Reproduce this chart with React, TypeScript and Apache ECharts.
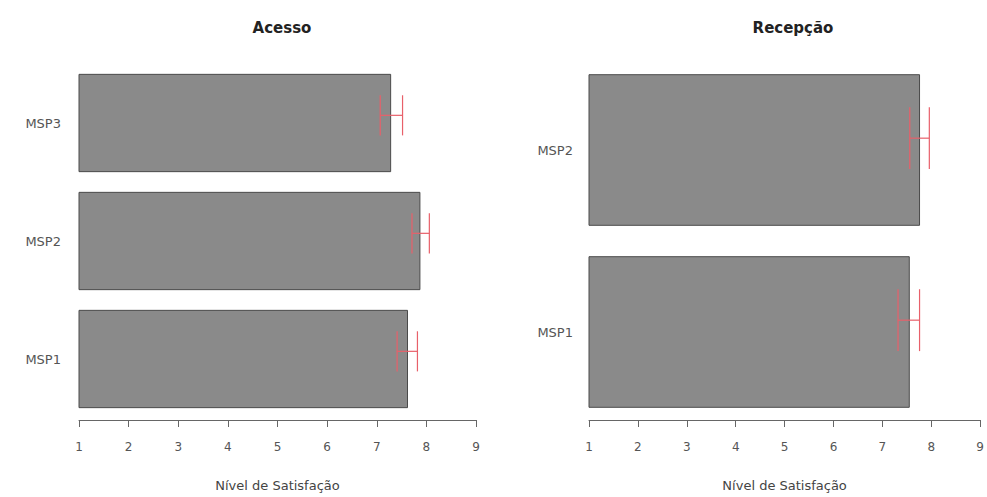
import React, { useEffect, useRef } from "react";
import * as echarts from "echarts";

const acessoCategories = ["MSP1", "MSP2", "MSP3"];
const acessoValues = [7.63, 7.88, 7.29];
const acessoLow = [7.41, 7.71, 7.07];
const acessoHigh = [7.82, 8.06, 7.52];

const recepcaoCategories = ["MSP1", "MSP2"];
const recepcaoValues = [7.56, 7.77];
const recepcaoLow = [7.32, 7.56];
const recepcaoHigh = [7.76, 7.96];

const xTicks = [1, 2, 3, 4, 5, 6, 7, 8, 9];
const titles = ["Acesso", "Recepção"];
const xName = "Nível de Satisfação";

const FONT = "DejaVu Sans, Liberation Sans, Arial, sans-serif";
const BAR_FILL = "#8a8a8a";
const BAR_BORDER = "#4a4a4a";
const ERR_COLOR = "#e8606a";

function errorSeries(gridIdx: number, low: number[], high: number[]) {
  return {
    type: "custom",
    xAxisIndex: gridIdx,
    yAxisIndex: gridIdx,
    z: 5,
    data: low.map((l, i) => [i, l, high[i]]),
    renderItem: (params: any, api: any) => {
      const idx = api.value(0);
      const lo = api.coord([api.value(1), idx]);
      const hi = api.coord([api.value(2), idx]);
      const band = api.size([0, 1])[1];
      const y = lo[1] - band * 0.065;
      const h = band * 0.17;
      const style = { stroke: ERR_COLOR, lineWidth: 1.2, fill: null };
      return {
        type: "group",
        children: [
          { type: "line", shape: { x1: lo[0], y1: y, x2: hi[0], y2: y }, style },
          { type: "line", shape: { x1: lo[0], y1: y - h, x2: lo[0], y2: y + h }, style },
          { type: "line", shape: { x1: hi[0], y1: y - h, x2: hi[0], y2: y + h }, style },
        ],
      };
    },
  };
}

function xAxis(gridIndex: number, offset: number) {
  return {
    type: "value",
    gridIndex,
    min: 1,
    max: 9,
    interval: 1,
    offset,
    name: xName,
    nameLocation: "middle",
    nameGap: 59,
    nameTextStyle: { fontSize: 13, color: "#444", fontFamily: FONT },
    splitLine: { show: false },
    axisLine: { show: true, lineStyle: { color: "#666", width: 1 } },
    axisTick: { show: true, length: 7, lineStyle: { color: "#666" } },
    axisLabel: {
      margin: 21,
      fontSize: 12,
      color: "#555",
      fontFamily: FONT,
      formatter: (v: number) => (xTicks.includes(v) ? String(v) : ""),
    },
  };
}

function yAxis(gridIndex: number, cats: string[], margin: number) {
  return {
    type: "category",
    gridIndex,
    data: cats,
    axisLine: { show: false },
    axisTick: { show: false },
    axisLabel: {
      margin,
      fontSize: 13,
      color: "#555",
      fontFamily: FONT,
    },
  };
}

function barSeries(gridIdx: number, values: number[]) {
  return {
    type: "bar",
    xAxisIndex: gridIdx,
    yAxisIndex: gridIdx,
    data: values,
    barCategoryGap: "16.7%",
    clip: true,
    itemStyle: { color: BAR_FILL, borderColor: BAR_BORDER, borderWidth: 1 },
  };
}

export default function App() {
  const ref = useRef<HTMLDivElement>(null);
  useEffect(() => {
    if (!ref.current) return;
    const chart = echarts.init(ref.current, null, { renderer: "svg" });
    const titleStyle = { fontSize: 15, fontWeight: "bold", color: "#222", fontFamily: FONT };
    chart.setOption({
      animation: false,
      backgroundColor: "#ffffff",
      title: [
        { text: titles[0], left: 277, top: 15, textAlign: "center", textStyle: titleStyle },
        { text: titles[1], left: 788, top: 15, textAlign: "center", textStyle: titleStyle },
      ],
      grid: [
        { left: 79, width: 397, top: 64, height: 356 },
        { left: 589, width: 398, top: 59, height: 366 },
      ],
      xAxis: [xAxis(0, 2), xAxis(1, -3)],
      yAxis: [yAxis(0, acessoCategories, 18), yAxis(1, recepcaoCategories, 16)],
      series: [
        barSeries(0, acessoValues),
        barSeries(1, recepcaoValues),
        errorSeries(0, acessoLow, acessoHigh),
        errorSeries(1, recepcaoLow, recepcaoHigh),
      ],
    });
    return () => chart.dispose();
  }, []);
  return (
    <div
      ref={ref}
      style={{ position: "fixed", left: 0, top: 0, width: 987, height: 497 }}
    />
  );
}
